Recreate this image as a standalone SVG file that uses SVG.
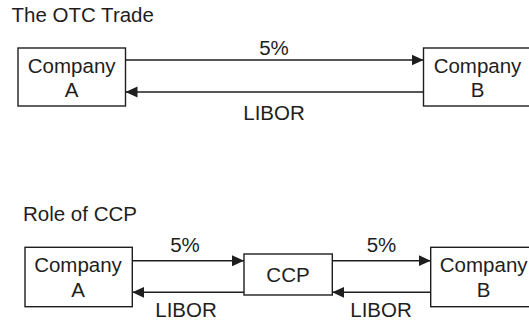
<svg xmlns="http://www.w3.org/2000/svg" width="529" height="322" viewBox="0 0 529 322">
<defs>
<style>
text{font-family:"Liberation Sans",Arial,sans-serif;font-size:20.5px;fill:#1e1e1e}
.t{text-anchor:middle}
.box{fill:#fff;stroke:#1e1e1e;stroke-width:1.4}
.ln{stroke:#1e1e1e;stroke-width:1.4;fill:none}
</style>
<marker id="ah" markerUnits="userSpaceOnUse" markerWidth="13" markerHeight="12" refX="12" refY="6" orient="auto">
<path d="M0,0.5 L12,6 L0,11.5 Z" fill="#1e1e1e"/>
</marker>
</defs>
<rect width="529" height="322" fill="#fff"/>
<text x="11.5" y="21.5" font-size="19.7">The OTC Trade</text>
<text x="23" y="221" font-size="20.3">Role of CCP</text>
<g id="connectors">
<line class="ln" x1="125.5" y1="60" x2="423.5" y2="60" marker-end="url(#ah)"/>
<line class="ln" x1="423.5" y1="92" x2="125.5" y2="92" marker-end="url(#ah)"/>
<text class="t" x="274" y="55">5%</text>
<text class="t" x="274" y="120">LIBOR</text>
<line class="ln" x1="132.3" y1="260.7" x2="244" y2="260.7" marker-end="url(#ah)"/>
<line class="ln" x1="244" y1="292.3" x2="132.3" y2="292.3" marker-end="url(#ah)"/>
<line class="ln" x1="332.3" y1="260.7" x2="430.7" y2="260.7" marker-end="url(#ah)"/>
<line class="ln" x1="430.7" y1="292.3" x2="332.3" y2="292.3" marker-end="url(#ah)"/>
<text class="t" x="185" y="252">5%</text>
<text class="t" x="186" y="317">LIBOR</text>
<text class="t" x="381.5" y="252">5%</text>
<text class="t" x="381" y="317">LIBOR</text>
</g>
<g id="otcA">
<rect class="box" x="18" y="48" width="107.5" height="58"/>
<text class="t" x="71.7" y="72.5">Company</text>
<text class="t" x="71.7" y="97.3">A</text>
</g>
<g id="otcB">
<rect class="box" x="423.5" y="48" width="120" height="58"/>
<text class="t" x="477.5" y="72.5">Company</text>
<text class="t" x="477.5" y="97.3">B</text>
</g>
<g id="ccpA">
<rect class="box" x="25" y="247.3" width="107.3" height="59.4"/>
<text class="t" x="78" y="271.7">Company</text>
<text class="t" x="78" y="296.7">A</text>
</g>
<g id="ccp">
<rect class="box" x="244" y="254" width="88.3" height="41"/>
<text class="t" x="288" y="281.5">CCP</text>
</g>
<g id="ccpB">
<rect class="box" x="430.7" y="247.3" width="120" height="59.4"/>
<text class="t" x="483.7" y="271.7">Company</text>
<text class="t" x="483.7" y="296.7">B</text>
</g>
</svg>
